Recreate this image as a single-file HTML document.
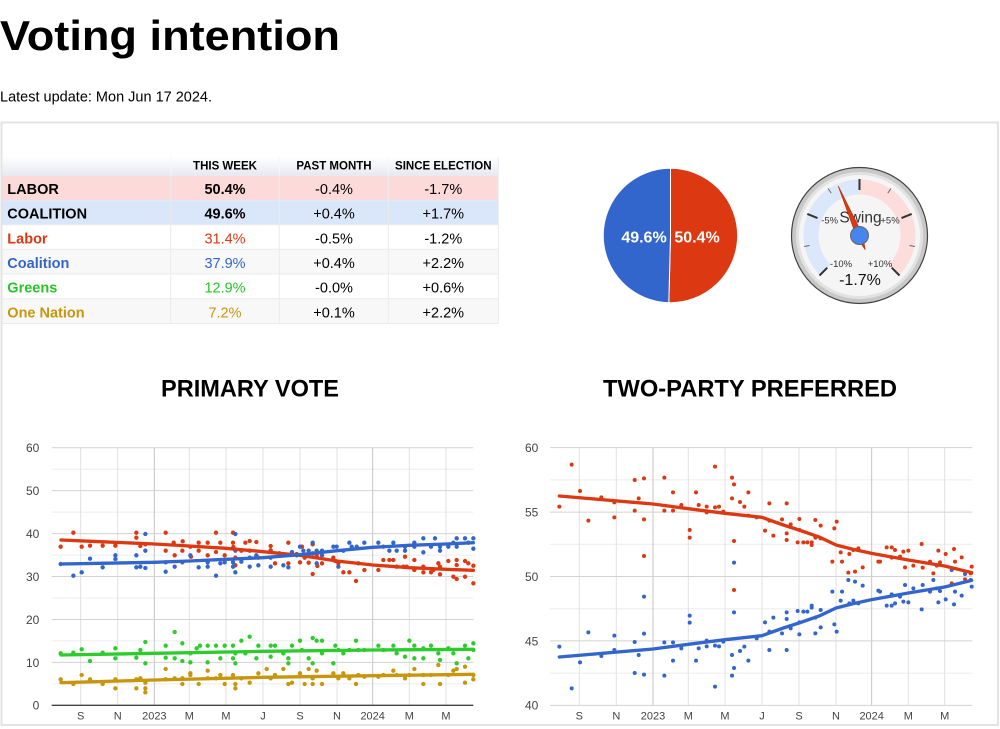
<!DOCTYPE html>
<html>
<head>
<meta charset="utf-8">
<style>
html,body{margin:0;padding:0;background:#fff;}
svg{display:block;}
text{font-family:"Liberation Sans",Arial,sans-serif;}
</style>
</head>
<body>
<svg width="1000" height="729" viewBox="0 0 1000 729" xmlns="http://www.w3.org/2000/svg">
<defs>
<linearGradient id="hg" x1="0" y1="0" x2="0" y2="1">
<stop offset="0" stop-color="#ffffff"/>
<stop offset="1" stop-color="#e4e9f2"/>
</linearGradient>
</defs>

<!-- Title -->
<text x="0" y="50" font-size="42" font-weight="bold" fill="#000" textLength="340" lengthAdjust="spacingAndGlyphs">Voting intention</text>
<text x="0" y="101.5" font-size="14.5" fill="#000">Latest update: Mon Jun 17 2024.</text>

<!-- Container -->
<rect x="1.5" y="122.5" width="996.5" height="602.5" fill="none" stroke="#e3e3e3" stroke-width="2"/>

<!-- Table -->
<rect x="2.5" y="156.7" width="496" height="19" fill="url(#hg)"/>
<rect x="2.5" y="175.7" width="496" height="24.5" fill="#fcdada"/>
<rect x="2.5" y="200.2" width="496" height="24.6" fill="#dae6fa"/>
<rect x="2.5" y="224.8" width="496" height="24.5" fill="#ffffff"/>
<rect x="2.5" y="249.3" width="496" height="24.7" fill="#f8f8f8"/>
<rect x="2.5" y="274" width="496" height="24.7" fill="#ffffff"/>
<rect x="2.5" y="298.7" width="496" height="24.8" fill="#f8f8f8"/>
<g stroke="#ebebeb" stroke-width="1">
<line x1="2.5" y1="224.8" x2="498.5" y2="224.8"/>
<line x1="2.5" y1="249.3" x2="498.5" y2="249.3"/>
<line x1="2.5" y1="274" x2="498.5" y2="274"/>
<line x1="2.5" y1="298.7" x2="498.5" y2="298.7"/>
<line x1="2.5" y1="323.5" x2="498.5" y2="323.5"/>
<line x1="170.7" y1="175.7" x2="170.7" y2="323.5"/>
<line x1="279.3" y1="175.7" x2="279.3" y2="323.5"/>
<line x1="388.3" y1="175.7" x2="388.3" y2="323.5"/>
<line x1="498.3" y1="156.7" x2="498.3" y2="323.5"/>
</g>
<g stroke="#f4f6fa" stroke-width="1">
<line x1="170.7" y1="156.7" x2="170.7" y2="175.7"/>
<line x1="279.3" y1="156.7" x2="279.3" y2="175.7"/>
<line x1="388.3" y1="156.7" x2="388.3" y2="175.7"/>
</g>
<g font-size="11.5" font-weight="bold" fill="#000" text-anchor="middle">
<text x="225" y="169.3">THIS WEEK</text>
<text x="334" y="169.3">PAST MONTH</text>
<text x="443.3" y="169.3">SINCE ELECTION</text>
</g>
<g font-size="14.5">
<text x="7.3" y="194" font-weight="bold" fill="#000">LABOR</text>
<text x="7.3" y="218.7" font-weight="bold" fill="#000">COALITION</text>
<text x="7.3" y="243.3" font-weight="bold" fill="#dc3912">Labor</text>
<text x="7.3" y="268" font-weight="bold" fill="#3366cc">Coalition</text>
<text x="7.3" y="292.7" font-weight="bold" fill="#28c428">Greens</text>
<text x="7.3" y="317.3" font-weight="bold" fill="#c8960c">One Nation</text>
</g>
<g font-size="14.5" text-anchor="middle" fill="#000">
<text x="225" y="194" font-weight="bold">50.4%</text>
<text x="225" y="218.7" font-weight="bold">49.6%</text>
<text x="225" y="243.3" fill="#dc3912">31.4%</text>
<text x="225" y="268" fill="#3366cc">37.9%</text>
<text x="225" y="292.7" fill="#28c428">12.9%</text>
<text x="225" y="317.3" fill="#c8960c">7.2%</text>
<text x="334" y="194">-0.4%</text>
<text x="334" y="218.7">+0.4%</text>
<text x="334" y="243.3">-0.5%</text>
<text x="334" y="268">+0.4%</text>
<text x="334" y="292.7">-0.0%</text>
<text x="334" y="317.3">+0.1%</text>
<text x="443.3" y="194">-1.7%</text>
<text x="443.3" y="218.7">+1.7%</text>
<text x="443.3" y="243.3">-1.2%</text>
<text x="443.3" y="268">+2.2%</text>
<text x="443.3" y="292.7">+0.6%</text>
<text x="443.3" y="317.3">+2.2%</text>
</g>

<!-- Pie -->
<path d="M670.5 235.5 L670.5 168.3 A67.2 67.2 0 1 1 668.8 302.68 Z" fill="#dc3912" stroke="#fff" stroke-width="1"/>
<path d="M670.5 235.5 L668.8 302.68 A67.2 67.2 0 0 1 670.5 168.3 Z" fill="#3366cc" stroke="#fff" stroke-width="1"/>
<text x="644" y="242.7" font-size="16" font-weight="bold" fill="#fff" text-anchor="middle">49.6%</text>
<text x="697" y="242.7" font-size="16" font-weight="bold" fill="#fff" text-anchor="middle">50.4%</text>

<!-- Gauge -->
<circle cx="859.5" cy="235.5" r="68" fill="#c8c8c8" stroke="#444" stroke-width="1.2"/>
<circle cx="859.5" cy="235.5" r="62" fill="#f5f5f5" stroke="#e2e2e2" stroke-width="3"/>
<path d="M819.9 275.1 A56 56 0 0 1 859.5 179.5 L859.5 194.5 A41 41 0 0 0 830.5 264.5 Z" fill="#dbe7fb"/>
<path d="M859.5 179.5 A56 56 0 0 1 899.1 275.1 L888.5 264.5 A41 41 0 0 0 859.5 194.5 Z" fill="#fddcdc"/>
<g stroke="#333" stroke-width="2">
<line x1="827.3" y1="267.7" x2="819.5" y2="275.5"/>
<line x1="817.5" y1="218.1" x2="807.3" y2="213.9"/>
<line x1="859.5" y1="190" x2="859.5" y2="179"/>
<line x1="901.5" y1="218.1" x2="911.7" y2="213.9"/>
<line x1="891.7" y1="267.7" x2="899.5" y2="275.5"/>
</g>
<g stroke="#666" stroke-width="1">
<line x1="831.2" y1="193.1" x2="828.1" y2="188.5"/>
<line x1="887.8" y1="193.1" x2="890.9" y2="188.5"/>
<line x1="809.5" y1="245.5" x2="804.1" y2="246.5"/>
<line x1="909.5" y1="245.5" x2="914.9" y2="246.5"/>
</g>
<text x="860.5" y="222.7" font-size="15.5" fill="#333" text-anchor="middle">Swing</text>
<g font-size="9.5" fill="#333" text-anchor="middle">
<text x="829.7" y="223.3">-5%</text>
<text x="890" y="223.3">+5%</text>
<text x="841" y="267">-10%</text>
<text x="880" y="267">+10%</text>
</g>
<text x="860" y="285" font-size="16" fill="#111" text-anchor="middle">-1.7%</text>
<polygon points="838.3,186.2 862.3,234.1 865.2,249.7 856.7,236.9" fill="#dc3912" stroke="#c0320f" stroke-width="0.8"/>
<circle cx="859.5" cy="235.5" r="9" fill="#4684ee" stroke="#666" stroke-width="1"/>

<!-- Section titles -->
<text x="250" y="396.7" font-size="24" font-weight="bold" fill="#000" text-anchor="middle" textLength="178" lengthAdjust="spacingAndGlyphs">PRIMARY VOTE</text>
<text x="750" y="396.7" font-size="24" font-weight="bold" fill="#000" text-anchor="middle" textLength="294" lengthAdjust="spacingAndGlyphs">TWO-PARTY PREFERRED</text>

<!-- PRIMARY VOTE chart (coords in 3x space) -->
<g transform="translate(0,430) scale(0.333333)">
<g stroke="#ececec" stroke-width="3">
<line x1="155" y1="117.6" x2="1420" y2="117.6"/>
<line x1="155" y1="246.4" x2="1420" y2="246.4"/>
<line x1="155" y1="375.2" x2="1420" y2="375.2"/>
<line x1="155" y1="504" x2="1420" y2="504"/>
<line x1="155" y1="632.8" x2="1420" y2="632.8"/>
<line x1="155" y1="761.6" x2="1420" y2="761.6"/>
</g>
<g stroke="#e2e2e2" stroke-width="3">
<line x1="242" y1="53" x2="242" y2="826"/>
<line x1="353" y1="53" x2="353" y2="826"/>
<line x1="568" y1="53" x2="568" y2="826"/>
<line x1="678" y1="53" x2="678" y2="826"/>
<line x1="789" y1="53" x2="789" y2="826"/>
<line x1="900" y1="53" x2="900" y2="826"/>
<line x1="1011" y1="53" x2="1011" y2="826"/>
<line x1="1228" y1="53" x2="1228" y2="826"/>
<line x1="1338" y1="53" x2="1338" y2="826"/>
</g>
<g stroke="#c4c4c4" stroke-width="3">
<line x1="463" y1="53" x2="463" y2="826"/>
<line x1="1118" y1="53" x2="1118" y2="826"/>
</g>
<g stroke="#d2d2d2" stroke-width="3">
<line x1="155" y1="53.2" x2="1420" y2="53.2"/>
<line x1="155" y1="182" x2="1420" y2="182"/>
<line x1="155" y1="310.8" x2="1420" y2="310.8"/>
<line x1="155" y1="439.6" x2="1420" y2="439.6"/>
<line x1="155" y1="568.4" x2="1420" y2="568.4"/>
<line x1="155" y1="697.2" x2="1420" y2="697.2"/>
</g>
<line x1="155" y1="826" x2="1420" y2="826" stroke="#444" stroke-width="4"/>
<g font-size="36" fill="#444" text-anchor="end">
<text x="118" y="66">60</text>
<text x="118" y="195">50</text>
<text x="118" y="324">40</text>
<text x="118" y="453">30</text>
<text x="118" y="582">20</text>
<text x="118" y="711">10</text>
<text x="118" y="839">0</text>
</g>
<g font-size="33" fill="#444" text-anchor="middle">
<text x="242" y="868">S</text>
<text x="353" y="868">N</text>
<text x="463" y="868">2023</text>
<text x="568" y="868">M</text>
<text x="678" y="868">M</text>
<text x="789" y="868">J</text>
<text x="900" y="868">S</text>
<text x="1011" y="868">N</text>
<text x="1118" y="868">2024</text>
<text x="1228" y="868">M</text>
<text x="1338" y="868">M</text>
</g>
<g fill="none" stroke-width="13" stroke-linecap="round">
<path stroke="#c8960c" d="M182 748h.1M220 762h.1M245 735h.1M270 748h.1M308 762h.1M346 748h.1M346 775h.1M409 775h.1M409 748h.1M421 745h.1M436 758h.1M436 787h.1M436 775h.1M497 717h.1M497 748h.1M524 745h.1M547 745h.1M547 762h.1M571 730h.1M571 735h.1M596 762h.1M623 722h.1M623 745h.1M648 745h.1M661 735h.1M674 762h.1M699 735h.1M706 775h.1M706 762h.1M724 745h.1M749 758h.1M775 730h.1M800 717h.1M812 745h.1M825 735h.1M850 717h.1M865 762h.1M876 758h.1M900 730h.1M914 762h.1M926 717h.1M938 745h.1M938 762h.1M950 722h.1M966 762h.1M1000 730h.1M1015 745h.1M1030 730h.1M1048 745h.1M1068 762h.1M1075 735h.1M1093 740h.1M1135 740h.1M1150 735h.1M1180 722h.1M1190 735h.1M1215 745h.1M1228 735h.1M1243 717h.1M1270 762h.1M1270 735h.1M1293 735h.1M1315 705h.1M1320 762h.1M1345 735h.1M1360 722h.1M1370 717h.1M1395 710h.1M1395 758h.1M1420 735h.1M1420 748h.1"/>
<path stroke="#2ccc2c" d="M182 670h.1M220 668h.1M245 658h.1M270 693h.1M308 668h.1M346 655h.1M346 685h.1M409 683h.1M421 660h.1M436 636h.1M436 700h.1M497 647h.1M497 683h.1M524 606h.1M524 685h.1M547 640h.1M547 693h.1M571 670h.1M571 697h.1M590 655h.1M600 647h.1M623 647h.1M623 697h.1M648 647h.1M661 685h.1M674 647h.1M699 647h.1M699 685h.1M706 700h.1M706 670h.1M724 632h.1M736 670h.1M749 620h.1M769 685h.1M775 647h.1M812 647h.1M812 680h.1M825 647h.1M850 670h.1M865 685h.1M865 700h.1M876 647h.1M900 632h.1M906 660h.1M926 685h.1M938 624h.1M938 700h.1M950 632h.1M966 632h.1M966 670h.1M1000 700h.1M1006 647h.1M1015 660h.1M1030 670h.1M1048 660h.1M1068 632h.1M1075 660h.1M1093 660h.1M1135 647h.1M1150 660h.1M1180 647h.1M1190 670h.1M1215 680h.1M1228 632h.1M1243 647h.1M1243 685h.1M1270 685h.1M1270 655h.1M1293 647h.1M1315 670h.1M1320 690h.1M1345 655h.1M1360 670h.1M1370 700h.1M1395 647h.1M1405 685h.1M1420 640h.1M1420 660h.1"/>
<path stroke="#dc3912" d="M182 350h.1M220 308h.1M245 350h.1M270 347h.1M308 347h.1M346 347h.1M346 340h.1M409 308h.1M409 323h.1M421 348h.1M436 343h.1M497 308h.1M497 362h.1M521 338h.1M524 376h.1M547 362h.1M548 334h.1M571 350h.1M573 380h.1M596 362h.1M596 338h.1M623 376h.1M623 338h.1M648 308h.1M648 366h.1M661 338h.1M674 376h.1M699 308h.1M699 338h.1M700 351h.1M706 383h.1M706 406h.1M724 362h.1M736 338h.1M749 333h.1M749 362h.1M769 336h.1M775 383h.1M812 348h.1M812 361h.1M825 400h.1M838 372h.1M865 338h.1M865 400h.1M890 372h.1M900 397h.1M906 350h.1M914 383h.1M926 398h.1M938 432h.1M938 343h.1M950 376h.1M952 408h.1M966 400h.1M1000 383h.1M1006 393h.1M1015 400h.1M1030 427h.1M1048 427h.1M1068 453h.1M1075 400h.1M1093 420h.1M1135 420h.1M1150 390h.1M1168 390h.1M1180 390h.1M1190 410h.1M1210 410h.1M1220 410h.1M1215 380h.1M1243 390h.1M1243 420h.1M1270 410h.1M1270 427h.1M1293 427h.1M1300 420h.1M1315 400h.1M1320 410h.1M1320 433h.1M1345 393h.1M1360 440h.1M1370 447h.1M1370 390h.1M1370 405h.1M1395 440h.1M1395 393h.1M1405 400h.1M1420 407h.1M1420 460h.1"/>
<path stroke="#3366cc" d="M182 402h.1M220 437h.1M245 427h.1M270 386h.1M308 412h.1M346 387h.1M346 376h.1M409 376h.1M409 412h.1M421 410h.1M436 312h.1M436 362h.1M436 414h.1M497 425h.1M497 397h.1M524 410h.1M547 397h.1M571 376h.1M596 412h.1M623 397h.1M623 410h.1M648 437h.1M661 400h.1M674 397h.1M699 410h.1M699 397h.1M706 312h.1M706 362h.1M706 427h.1M724 395h.1M749 410h.1M749 383h.1M769 376h.1M775 406h.1M812 383h.1M812 410h.1M838 370h.1M850 406h.1M865 412h.1M876 366h.1M890 376h.1M900 350h.1M910 362h.1M926 362h.1M938 338h.1M938 370h.1M950 362h.1M950 400h.1M966 362h.1M966 376h.1M1000 350h.1M1010 350h.1M1015 410h.1M1030 362h.1M1048 338h.1M1055 350h.1M1070 350h.1M1093 338h.1M1135 338h.1M1150 350h.1M1168 362h.1M1180 338h.1M1190 362h.1M1215 350h.1M1215 362h.1M1243 338h.1M1243 350h.1M1270 325h.1M1270 367h.1M1293 350h.1M1305 325h.1M1320 350h.1M1320 362h.1M1345 350h.1M1360 338h.1M1370 325h.1M1370 350h.1M1395 325h.1M1405 338h.1M1420 325h.1M1420 356h.1"/>
</g>
<g fill="none" stroke-width="10" stroke-linejoin="round" stroke-linecap="round">
<polyline stroke="#c8960c" points="183,758 463,750 789,742 1118,737 1420,733"/>
<polyline stroke="#2ccc2c" points="183,675 463,670 789,664 1118,660 1420,658"/>
<polyline stroke="#dc3912" points="183,330 300,335 463,342 568,348 678,355 789,365 900,376 1011,393 1118,405 1228,413 1338,418 1420,421"/>
<polyline stroke="#3366cc" points="183,402 300,400 463,397 568,393 678,388 789,383 900,374 1011,362 1118,352 1228,346 1338,342 1420,338"/>
</g>
</g>

<!-- TWO-PARTY PREFERRED chart (coords in 3x space) -->
<g transform="translate(500,430) scale(0.333333)">
<g stroke="#ececec" stroke-width="3">
<line x1="150" y1="149.6" x2="1417" y2="149.6"/>
<line x1="150" y1="342.9" x2="1417" y2="342.9"/>
<line x1="150" y1="536.1" x2="1417" y2="536.1"/>
<line x1="150" y1="729.4" x2="1417" y2="729.4"/>
</g>
<g stroke="#e2e2e2" stroke-width="3">
<line x1="238" y1="53" x2="238" y2="826"/>
<line x1="349" y1="53" x2="349" y2="826"/>
<line x1="565" y1="53" x2="565" y2="826"/>
<line x1="675" y1="53" x2="675" y2="826"/>
<line x1="786" y1="53" x2="786" y2="826"/>
<line x1="897" y1="53" x2="897" y2="826"/>
<line x1="1008" y1="53" x2="1008" y2="826"/>
<line x1="1225" y1="53" x2="1225" y2="826"/>
<line x1="1334" y1="53" x2="1334" y2="826"/>
</g>
<g stroke="#c4c4c4" stroke-width="3">
<line x1="459" y1="53" x2="459" y2="826"/>
<line x1="1115" y1="53" x2="1115" y2="826"/>
</g>
<g stroke="#d2d2d2" stroke-width="3">
<line x1="150" y1="53" x2="1417" y2="53"/>
<line x1="150" y1="246.3" x2="1417" y2="246.3"/>
<line x1="150" y1="439.5" x2="1417" y2="439.5"/>
<line x1="150" y1="632.8" x2="1417" y2="632.8"/>
<line x1="150" y1="826" x2="1417" y2="826"/>
</g>
<g font-size="36" fill="#444" text-anchor="end">
<text x="115" y="66">60</text>
<text x="115" y="259">55</text>
<text x="115" y="452.5">50</text>
<text x="115" y="646">45</text>
<text x="115" y="839">40</text>
</g>
<g font-size="33" fill="#444" text-anchor="middle">
<text x="238" y="868">S</text>
<text x="349" y="868">N</text>
<text x="459" y="868">2023</text>
<text x="565" y="868">M</text>
<text x="675" y="868">M</text>
<text x="786" y="868">J</text>
<text x="897" y="868">S</text>
<text x="1008" y="868">N</text>
<text x="1115" y="868">2024</text>
<text x="1225" y="868">M</text>
<text x="1334" y="868">M</text>
</g>
<g fill="none" stroke-width="12" stroke-linecap="round">
<path stroke="#dc3912" d="M178 230h.1M215 104h.1M240 183h.1M265 272h.1M304 202h.1M343 217h.1M343 262h.1M404 150h.1M404 242h.1M416 205h.1M432 145h.1M432 268h.1M432 378h.1M493 143h.1M493 242h.1M519 187h.1M519 242h.1M544 232h.1M544 225h.1M569 300h.1M569 323h.1M588 187h.1M596 225h.1M620 230h.1M620 247h.1M645 110h.1M645 232h.1M657 230h.1M670 245h.1M696 143h.1M696 205h.1M702 163h.1M702 333h.1M702 480h.1M720 216h.1M733 230h.1M745 187h.1M745 257h.1M770 262h.1M795 302h.1M808 220h.1M808 272h.1M820 317h.1M846 268h.1M860 220h.1M860 310h.1M860 330h.1M872 283h.1M893 337h.1M898 300h.1M898 267h.1M910 337h.1M922 337h.1M935 337h.1M935 345h.1M946 270h.1M946 323h.1M962 325h.1M962 287h.1M997 395h.1M1003 295h.1M1010 275h.1M1022 367h.1M1026 395h.1M1045 428h.1M1048 372h.1M1060 360h.1M1065 425h.1M1075 355h.1M1088 412h.1M1135 395h.1M1140 395h.1M1160 352h.1M1175 352h.1M1175 383h.1M1185 360h.1M1200 380h.1M1210 365h.1M1215 412h.1M1225 362h.1M1240 407h.1M1265 342h.1M1268 413h.1M1290 395h.1M1300 430h.1M1310 407h.1M1315 362h.1M1320 397h.1M1337 372h.1M1355 460h.1M1362 357h.1M1365 395h.1M1385 382h.1M1395 448h.1M1412 430h.1M1415 410h.1"/>
<path stroke="#3366cc" d="M178 650h.1M215 775h.1M240 697h.1M265 607h.1M304 678h.1M343 617h.1M343 660h.1M404 636h.1M404 729h.1M416 675h.1M432 500h.1M432 611h.1M432 734h.1M493 637h.1M493 737h.1M519 637h.1M519 692h.1M544 655h.1M569 557h.1M569 578h.1M588 692h.1M596 655h.1M620 632h.1M620 649h.1M645 770h.1M645 647h.1M657 649h.1M670 635h.1M696 675h.1M696 737h.1M702 547h.1M702 398h.1M702 714h.1M720 663h.1M733 650h.1M745 692h.1M770 625h.1M795 577h.1M808 605h.1M808 660h.1M820 563h.1M846 610h.1M860 547h.1M860 567h.1M860 660h.1M872 595h.1M893 543h.1M898 613h.1M898 577h.1M910 545h.1M922 545h.1M935 527h.1M935 533h.1M946 610h.1M946 563h.1M962 540h.1M962 592h.1M997 485h.1M1003 583h.1M1010 605h.1M1022 512h.1M1026 485h.1M1045 450h.1M1048 520h.1M1060 512h.1M1065 455h.1M1075 520h.1M1088 467h.1M1135 482h.1M1140 485h.1M1160 527h.1M1175 527h.1M1175 493h.1M1185 520h.1M1200 500h.1M1210 515h.1M1215 465h.1M1225 517h.1M1240 475h.1M1265 538h.1M1268 465h.1M1290 485h.1M1300 450h.1M1310 475h.1M1315 517h.1M1320 483h.1M1337 508h.1M1355 420h.1M1362 523h.1M1365 485h.1M1385 497h.1M1395 432h.1M1412 450h.1M1415 470h.1"/>
</g>
<g fill="none" stroke-width="10" stroke-linejoin="round" stroke-linecap="round">
<polyline stroke="#dc3912" points="178,198 459,222 565,236 675,250 786,262 850,285 897,300 960,322 1008,345 1060,358 1115,370 1225,390 1334,408 1415,428"/>
<polyline stroke="#3366cc" points="178,681 459,657 565,643 675,629 786,617 850,594 897,579 960,557 1008,534 1060,521 1115,509 1225,489 1334,471 1415,451"/>
</g>
</g>
</svg>
</body>
</html>
